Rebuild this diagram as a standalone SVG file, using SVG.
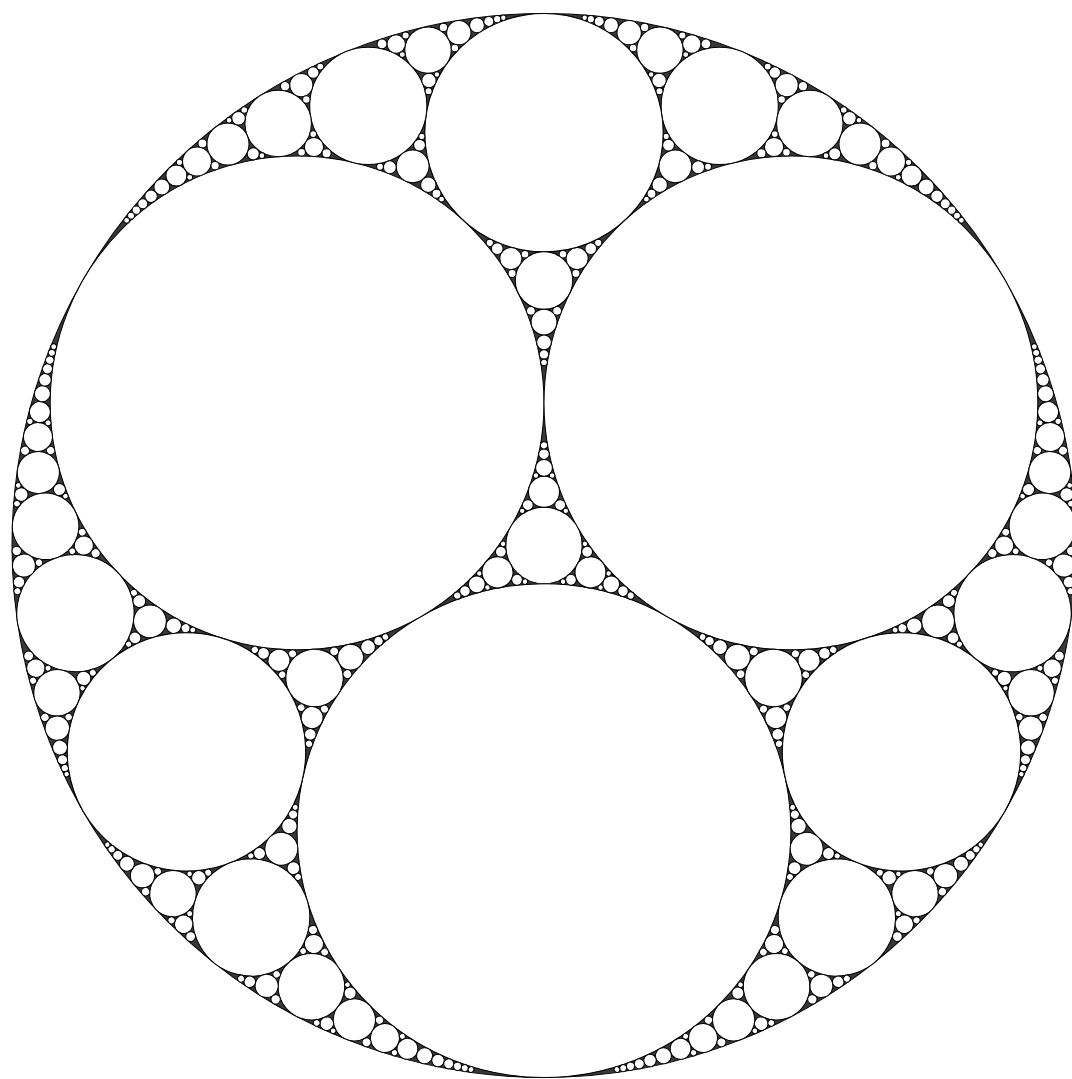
<svg xmlns="http://www.w3.org/2000/svg" xmlns:xlink="http://www.w3.org/1999/xlink" width="1072" height="1079" viewBox="0 0 1072 1079">
<style>
circle{fill:#ffffff;stroke:#000000;stroke-width:0.0019}
circle.bg{fill:#383838;stroke:#000000}
</style>
<defs>
<g id="s">
<circle cx="0" cy="-0.775991" r="0.224009"/>
<circle cx="0" cy="-0.498065" r="0.053917"/>
<circle cx="0" cy="-0.100934" r="0.029137"/>
<circle cx="0.330291" cy="-0.826339" r="0.110097"/>
<circle cx="0.062270" cy="-0.539278" r="0.020757"/>
<circle cx="0" cy="-0.419904" r="0.024243"/>
<circle cx="0.217968" cy="-0.931238" r="0.043594"/>
<circle cx="0.499653" cy="-0.793306" r="0.062457"/>
<circle cx="0.246888" cy="-0.712703" r="0.030861"/>
<circle cx="0.160095" cy="-0.963925" r="0.022871"/>
<circle cx="0.277873" cy="-0.942525" r="0.017367"/>
<circle cx="0.216296" cy="-0.874151" r="0.013519"/>
<circle cx="0.217513" cy="-0.678137" r="0.014501"/>
<circle cx="0.233993" cy="-0.752678" r="0.011143"/>
<circle cx="0.289793" cy="-0.711075" r="0.012075"/>
<circle cx="0.594090" cy="-0.754595" r="0.039606"/>
<circle cx="0.456191" cy="-0.865398" r="0.021724"/>
<circle cx="0.432452" cy="-0.749030" r="0.018019"/>
<circle cx="0.125986" cy="-0.977920" r="0.013998"/>
<circle cx="0.189182" cy="-0.973913" r="0.007883"/>
<circle cx="0.652249" cy="-0.721772" r="0.027177"/>
<circle cx="0.574236" cy="-0.803053" r="0.012761"/>
<circle cx="0.546516" cy="-0.736240" r="0.011386"/>
<circle cx="0.433739" cy="-0.888989" r="0.010843"/>
<circle cx="0.486700" cy="-0.863425" r="0.008849"/>
<circle cx="0.408653" cy="-0.737300" r="0.008514"/>
<circle cx="0.103697" cy="-0.985130" r="0.009427"/>
<circle cx="0.304464" cy="-0.942833" r="0.009226"/>
<circle cx="0.202093" cy="-0.661178" r="0.008421"/>
<circle cx="0.690988" cy="-0.695299" r="0.019743"/>
<circle cx="0.642019" cy="-0.755781" r="0.008338"/>
<circle cx="0.618246" cy="-0.713889" r="0.007728"/>
<circle cx="0.718370" cy="-0.673970" r="0.014966"/>
<circle cx="0.738630" cy="-0.656594" r="0.011724"/>
<circle cx="0.754164" cy="-0.642239" r="0.009427"/>
<circle cx="0.766420" cy="-0.630218" r="0.007742"/>
<circle cx="0.087869" cy="-0.558044" r="0.010984"/>
<circle cx="0" cy="-0.381881" r="0.013780"/>
<circle cx="0.024642" cy="-0.441029" r="0.008214"/>
<circle cx="0" cy="-0.359213" r="0.008888"/>
<circle cx="0" cy="-0.145862" r="0.015790"/>
<circle cx="0.030410" cy="-0.076081" r="0.010137"/>
<circle cx="0" cy="-0.171555" r="0.009905"/>
<circle cx="0.167534" cy="-0.935015" r="0.006981"/>
<circle cx="0.088048" cy="-0.989317" r="0.006773"/>
<circle cx="0.260076" cy="-0.958680" r="0.006669"/>
<circle cx="0.216963" cy="-0.854069" r="0.006575"/>
<circle cx="0.229644" cy="-0.768992" r="0.005741"/>
<circle cx="0.308270" cy="-0.711919" r="0.006422"/>
<circle cx="0.776321" cy="-0.620023" r="0.006469"/>
<circle cx="0.420507" cy="-0.900154" r="0.006469"/>
<circle cx="0.455717" cy="-0.739210" r="0.007234"/>
<circle cx="0.433885" cy="-0.773294" r="0.006288"/>
<circle cx="0.446756" cy="-0.838289" r="0.006981"/>
<circle cx="0.060018" cy="-0.511109" r="0.007502"/>
<circle cx="0.035657" cy="-0.547609" r="0.007131"/>
<circle cx="0.101937" cy="-0.568916" r="0.006796"/>
<circle cx="0" cy="-0.344120" r="0.006209"/>
<circle cx="0" cy="-0.188253" r="0.006793"/>
<circle cx="0.192530" cy="-0.651061" r="0.005501"/>
<circle cx="0.040994" cy="-0.065087" r="0.005124"/>
<circle cx="0.563456" cy="-0.818640" r="0.006192"/>
<circle cx="0.591916" cy="-0.799433" r="0.005285"/>
<circle cx="0.530146" cy="-0.732737" r="0.005355"/>
<circle cx="0.685249" cy="-0.720246" r="0.005857"/>
<circle cx="0.665908" cy="-0.692032" r="0.005549"/>
<circle cx="0.266363" cy="-0.922709" r="0.005549"/>
<circle cx="0.201374" cy="-0.885391" r="0.005163"/>
<circle cx="0.015193" cy="-0.131576" r="0.005064"/>
<circle cx="0.076474" cy="-0.991958" r="0.005098"/>
<circle cx="0.784473" cy="-0.611277" r="0.005486"/>
</g>
<g id="h">
<use xlink:href="#s" href="#s"/>
<use xlink:href="#s" href="#s" transform="scale(-1,1)"/>
</g>
</defs>
<rect x="0" y="0" width="1072" height="1079" fill="#ffffff"/>
<g id="gasket" transform="translate(544,545.5) scale(532)">
<circle class="bg" cx="0" cy="0" r="1"/>
<circle id="A" cx="0" cy="0.535898" r="0.464102"/>
<circle id="B" cx="-0.464102" cy="-0.267949" r="0.464102"/>
<circle id="C" cx="0.464102" cy="-0.267949" r="0.464102"/>
<circle id="D" cx="0" cy="0" r="0.071797"/>
<use xlink:href="#h" href="#h"/>
<use xlink:href="#h" href="#h" transform="rotate(120)"/>
<use xlink:href="#h" href="#h" transform="rotate(240)"/>
</g>
</svg>
